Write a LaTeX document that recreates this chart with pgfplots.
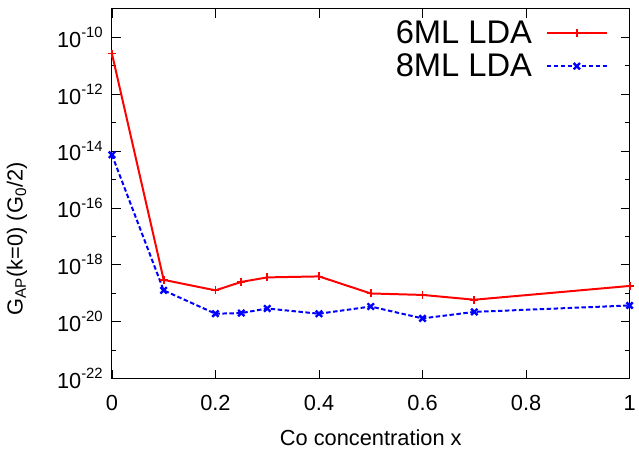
\documentclass[border=0pt]{standalone}
\usepackage{fontspec}
\setmainfont{Liberation Sans}
\usepackage{pgfplots}
\pgfplotsset{compat=1.18}
\newcommand{\E}[1]{10\raisebox{0.45em}{\fontsize{15}{15}\selectfont #1}}
\begin{document}
\begin{tikzpicture}
\begin{axis}[
  scale only axis, width=520.5bp, height=371.5bp,
  at={(0,0)}, anchor=south west,
  xmin=0, xmax=1, ymode=log, log basis y=10, ymin=1e-22, ymax=1e-9,
  xtick={0,0.2,0.4,0.6,0.8,1}, xticklabels={0,0.2,0.4,0.6,0.8,1},
  ytick={1e-22,1e-20,1e-18,1e-16,1e-14,1e-12,1e-10},
  yticklabels={\E{-22},\E{-20},\E{-18},\E{-16},\E{-14},\E{-12},\E{-10}},
  minor ytick={1e-21,1e-19,1e-17,1e-15,1e-13,1e-11},
  tick align=inside, major tick length=9bp, minor tick length=4.5bp,
  tick style={black, line width=0.8bp},
  axis line style={black, line width=1bp},
  every tick label/.append style={font=\fontsize{22}{22}\selectfont},
  xticklabel style={anchor=center, yshift=-24.5bp},
  yticklabel style={anchor=east, inner sep=0pt, xshift=-9bp},
  xlabel={Co concentration x},
  ylabel={G\textsubscript{AP}(k=0) (G\textsubscript{0}/2)},
  label style={font=\fontsize{22}{22}\selectfont},
  xlabel style={at={(axis description cs:0.5,0)}, anchor=center, yshift=-59.5bp},
  ylabel style={at={([xshift=-95.5bp]axis description cs:0,0.378)}, anchor=center},
  clip=false,
  legend plot pos=right,
  legend cell align=right,
  legend style={at={(axis description cs:0.958,0.974)}, anchor=north east,
    draw=none, fill=none, inner sep=0pt, column sep=12bp, row sep=5bp,
    nodes={inner sep=2bp},
    font=\fontsize{33}{33}\selectfont},
  legend image code/.code={\draw[mark repeat=2,mark phase=2] plot coordinates {(0bp,0bp) (30bp,0bp) (60bp,0bp)};},
]
\addplot[red, line width=2bp, mark=+, mark size=4bp, mark options={solid, line width=1.8bp}] coordinates {
(0,2.7e-11) (0.1,2.95e-19) (0.2,1.26e-19) (0.25,2.5e-19) (0.3,3.6e-19) (0.4,3.9e-19) (0.5,9.8e-20) (0.6,8.7e-20) (0.7,5.9e-20) (1.0,1.8e-19)
};
\addlegendentry{6ML LDA}
\addplot[blue, line width=2bp, dash pattern=on 4.5bp off 2.5bp, mark=x, mark size=4.5bp, mark options={solid, line width=2.4bp}] coordinates {
(0,7.4e-15) (0.1,1.26e-19) (0.2,1.9e-20) (0.25,2.0e-20) (0.3,2.9e-20) (0.4,1.9e-20) (0.5,3.4e-20) (0.6,1.3e-20) (0.7,2.2e-20) (1.0,3.7e-20)
};
\addlegendentry{8ML LDA}
\end{axis}
\useasboundingbox (-112.5bp,-70.5bp) rectangle (526.5bp,380.5bp);
\end{tikzpicture}
\end{document}
